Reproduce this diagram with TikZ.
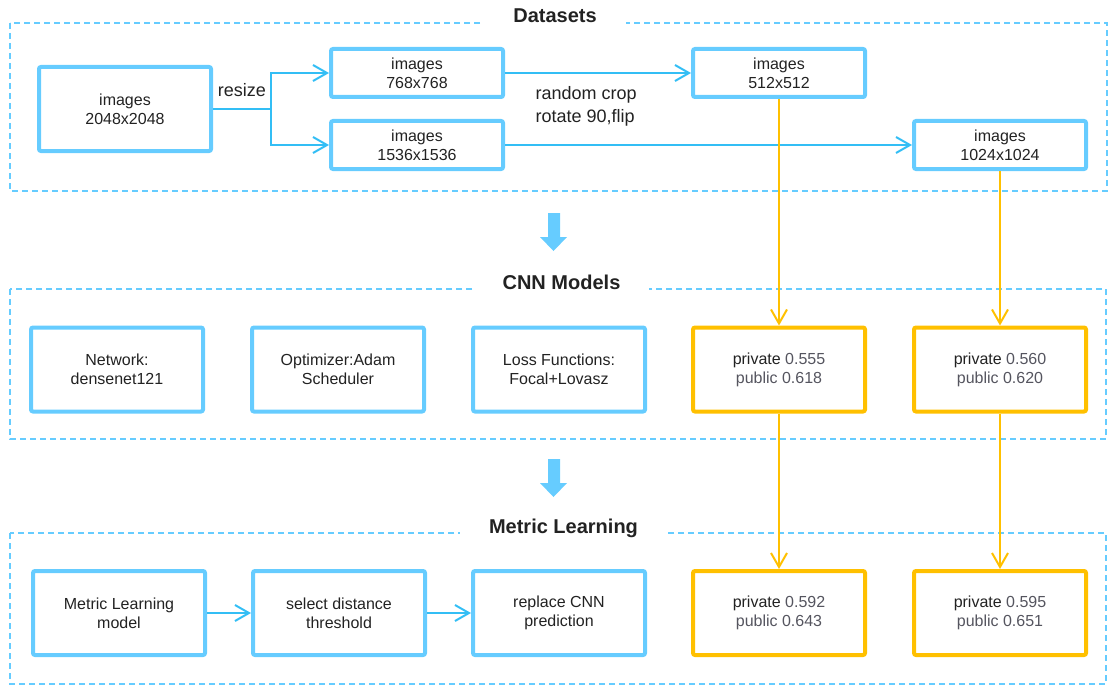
\documentclass[tikz,border=0pt]{standalone}
\usepackage{fontspec}
\setmainfont{Liberation Sans}
\usetikzlibrary{arrows.meta}
\definecolor{skyb}{RGB}{102,204,255}
\definecolor{linkb}{RGB}{51,190,245}
\definecolor{gold}{RGB}{255,192,0}
\definecolor{ink}{RGB}{34,34,34}
\definecolor{score}{RGB}{85,85,95}
\newcommand{\scores}[2]{private {\color{score}#1}\\{\color{score}public #2}}
\begin{document}
\begin{tikzpicture}[x=1pt,y=-1pt,
  every node/.style={text=ink},
  box/.style={draw=skyb,line width=4pt,rounded corners=2pt,minimum width=172pt,minimum height=84pt,align=center,font=\fontsize{16}{19}\selectfont},
  sbox/.style={box,minimum height=48pt},
  gbox/.style={box,draw=gold},
  frame/.style={draw=skyb,line width=1.5pt,dash pattern=on 6pt off 4pt},
  title/.style={fill=white,anchor=base,inner xsep=29pt,inner ysep=5pt,font=\fontsize{20}{24}\selectfont\bfseries},
  link/.style={draw=linkb,line width=2pt,-{Straight Barb[length=14pt,width=16pt]}},
  glink/.style={link,draw=gold}]
\useasboundingbox (0,0) rectangle (1118,698);

% section frames
\draw[frame] (10,23) rectangle (1107,191);
\draw[frame] (10,289) rectangle (1106,439);
\draw[frame] (10,533) rectangle (1106,684);
\node[title] (tData) at (555,23) {Datasets};
\node[title] (tCnn) at (561.5,289) {CNN Models};
\node[title] (tMetric) at (563.5,533) {Metric Learning};

\foreach \y in {213,459}{
  \fill[skyb] (548,\y) -- (560,\y) -- (560,\y+24) -- (567,\y+24) -- (553.5,\y+38)
    -- (540,\y+24) -- (548,\y+24) -- cycle;
}

% datasets
\node[box] (img2048) at (125,109) {images\\2048x2048};
\node[sbox] (img768) at (417,73) {images\\768x768};
\node[sbox] (img1536) at (417,145) {images\\1536x1536};
\node[sbox] (img512) at (779,73) {images\\512x512};
\node[sbox] (img1024) at (1000,145) {images\\1024x1024};
\coordinate (split) at (271,109);
\node[anchor=west,align=left,font=\fontsize{18}{23}\selectfont] (aug) at (532,106.5) {random crop\\rotate 90,flip};

\draw[link,-] (img2048) -- node[above=8pt,font=\fontsize{18}{22}\selectfont] (resize) {resize} (split);
\draw[link] (split) |- (img768);
\draw[link] (split) |- (img1536);
\draw[link] (img768) -- (img512);
\draw[link] (img1536) -- (img1024);

% cnn models
\node[box] (net) at (117,369.5) {Network:\\densenet121};
\node[box] (opt) at (338,369.5) {Optimizer:Adam\\Scheduler};
\node[box] (loss) at (559,369.5) {Loss Functions:\\Focal+Lovasz};
\node[gbox] (cnnA) at (779,369.5) {\scores{0.555}{0.618}};
\node[gbox] (cnnB) at (1000,369.5) {\scores{0.560}{0.620}};

% metric learning
\node[box] (mlModel) at (119,613) {Metric Learning\\model};
\node[box] (mlThresh) at (339,613) {select distance\\threshold};
\node[box] (mlReplace) at (559,613) {replace CNN\\prediction};
\node[gbox] (mlA) at (779,613) {\scores{0.592}{0.643}};
\node[gbox] (mlB) at (1000,613) {\scores{0.595}{0.651}};
\draw[link] (mlModel) -- (mlThresh);
\draw[link] (mlThresh) -- (mlReplace);

\draw[glink] (img512) -- (cnnA);
\draw[glink] (img1024) -- (cnnB);
\draw[glink] (cnnA) -- (mlA);
\draw[glink] (cnnB) -- (mlB);
\end{tikzpicture}
\end{document}
